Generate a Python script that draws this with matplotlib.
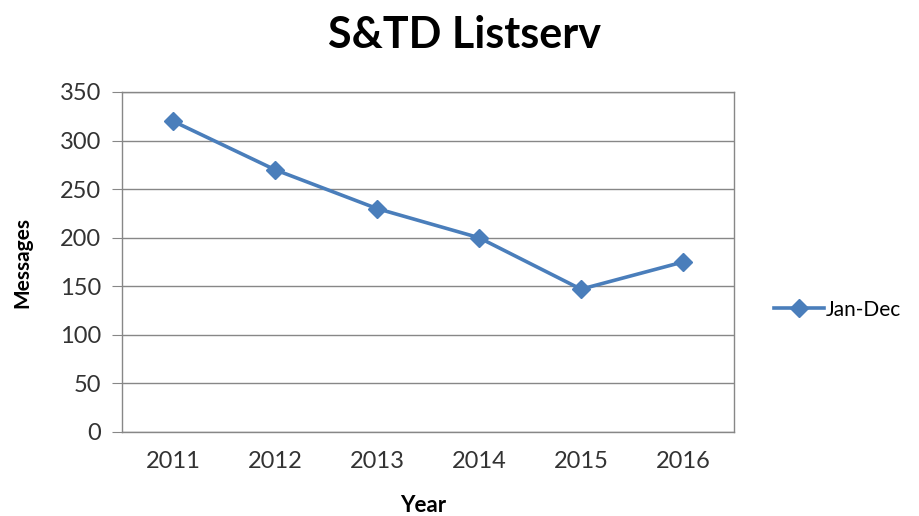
import matplotlib
matplotlib.use("Agg")
import matplotlib.pyplot as plt

years = ["2011", "2012", "2013", "2014", "2015", "2016"]
messages = [320, 270, 230, 200, 147, 175]
series_name = "Jan-Dec"
y_ticks = [0, 50, 100, 150, 200, 250, 300, 350]

plt.rcParams['font.family'] = ['Lato', 'DejaVu Sans']

fig = plt.figure(figsize=(9.19, 5.16), dpi=100)
ax = fig.add_axes([122/919, 1-432/516, (734-122)/919, (432-92)/516])

x = list(range(len(years)))
color = "#4A7EBB"
ax.plot(x, messages, color=color, lw=2.6, marker="D", markersize=9,
        markerfacecolor=color, markeredgecolor=color, label=series_name)

ax.set_xlim(-0.5, len(years) - 0.5)
ax.set_ylim(0, 350)
ax.set_yticks(y_ticks)
ax.set_xticks(x)
ax.set_xticklabels(years)
ax.yaxis.grid(True, color="#878787", lw=1)
ax.set_axisbelow(True)
for s in ax.spines.values():
    s.set_color("#878787")
    s.set_linewidth(1)
ax.tick_params(axis="y", length=7, color="#878787", labelsize=17, pad=8, labelcolor="#333333")
ax.tick_params(axis="x", length=0, labelsize=17, pad=14, labelcolor="#333333")

ax.set_xlabel("Year", fontsize=16, fontweight="bold", va="center")
ax.set_ylabel("Messages", fontsize=15, fontweight="bold", va="center")
ax.xaxis.set_label_coords((423 - 122) / 612, (432 - 505) / 340)
ax.yaxis.set_label_coords((22 - 122) / 612, (432 - 262) / 340)
fig.text(0.505, 0.932, "S&TD Listserv", ha="center", va="center",
         fontsize=31, fontweight="bold")

ax.legend(loc="center left", bbox_to_anchor=(1.035, 0.36), frameon=False,
          fontsize=15, handlelength=2.4, handletextpad=0.1)

fig.savefig("out.png", dpi=100)
